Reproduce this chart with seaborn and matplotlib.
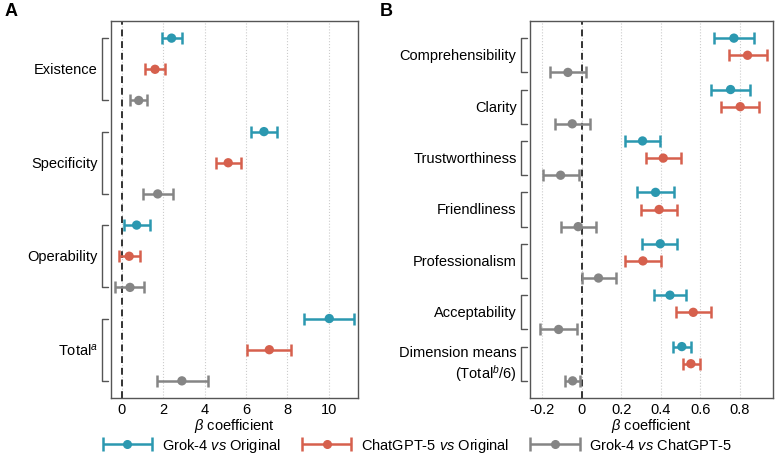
import numpy as np
import matplotlib
matplotlib.use('Agg')
import matplotlib.pyplot as plt
import matplotlib.transforms as mtransforms
from matplotlib.legend_handler import HandlerErrorbar
import seaborn as sns

# Panel A: objective dimensions
dims_a = ['Existence', 'Specificity', 'Operability', 'Total$^{a}$']
a_grok_orig = [2.40, 6.87, 0.71, 10.03]
a_grok_orig_lo = [1.95, 6.26, 0.10, 8.82]
a_grok_orig_hi = [2.92, 7.48, 1.37, 11.24]
a_gpt_orig = [1.60, 5.14, 0.35, 7.13]
a_gpt_orig_lo = [1.13, 4.55, -0.16, 6.05]
a_gpt_orig_hi = [2.08, 5.77, 0.87, 8.18]
a_grok_gpt = [0.81, 1.73, 0.39, 2.90]
a_grok_gpt_lo = [0.40, 1.00, -0.32, 1.68]
a_grok_gpt_hi = [1.21, 2.48, 1.06, 4.15]

# Panel B: subjective ratings
dims_b = ['Comprehensibility', 'Clarity', 'Trustworthiness', 'Friendliness',
          'Professionalism', 'Acceptability', 'Dimension means\n(Total$^{b}$/6)']
b_grok_orig = [0.770, 0.753, 0.307, 0.373, 0.397, 0.446, 0.506]
b_grok_orig_lo = [0.668, 0.653, 0.219, 0.280, 0.302, 0.366, 0.462]
b_grok_orig_hi = [0.871, 0.852, 0.395, 0.466, 0.484, 0.527, 0.552]
b_gpt_orig = [0.839, 0.802, 0.412, 0.391, 0.309, 0.564, 0.552]
b_gpt_orig_lo = [0.744, 0.705, 0.327, 0.297, 0.219, 0.479, 0.510]
b_gpt_orig_hi = [0.937, 0.898, 0.501, 0.484, 0.400, 0.652, 0.597]
b_grok_gpt = [-0.071, -0.049, -0.108, -0.019, 0.084, -0.118, -0.047]
b_grok_gpt_lo = [-0.160, -0.137, -0.196, -0.108, -0.002, -0.213, -0.086]
b_grok_gpt_hi = [0.020, 0.041, -0.017, 0.071, 0.174, -0.025, -0.009]

comparisons = ['Grok-4 $\\it{vs}$ Original', 'ChatGPT-5 $\\it{vs}$ Original',
               'Grok-4 $\\it{vs}$ ChatGPT-5']
colors = ['#2b98b0', '#d6604d', '#858585']

sns.set_style('white')
plt.rcParams['font.family'] = ['Liberation Sans', 'DejaVu Sans']
plt.rcParams['mathtext.fontset'] = 'custom'
plt.rcParams['mathtext.rm'] = 'Liberation Sans'
plt.rcParams['mathtext.it'] = 'Liberation Sans:italic'
plt.rcParams['font.size'] = 10.5
plt.rcParams['text.color'] = 'black'
plt.rcParams['axes.labelcolor'] = 'black'
plt.rcParams['xtick.color'] = 'black'


def draw_panel(ax, dims, series, xlim, xticks, xticklabels, row_pad):
    n = len(dims)
    for k, (vals, lo, hi) in enumerate(series):
        ys = np.arange(n) * 3 + k
        vals = np.array(vals)
        err = [vals - np.array(lo), np.array(hi) - vals]
        ax.errorbar(vals, ys, xerr=err, fmt='none', ecolor=colors[k],
                    elinewidth=1.8, capsize=4, capthick=1.8, zorder=3)
        sns.scatterplot(x=vals, y=ys, color=colors[k], s=45, edgecolor='none',
                        ax=ax, zorder=4, legend=False)
    ax.axvline(0, color='#333333', linestyle=(0, (3.5, 2.5)), linewidth=1.4, zorder=2)
    for t in xticks:
        ax.axvline(t, color='#cccccc', linestyle=':', linewidth=0.8, zorder=1)
    ax.set_xlim(*xlim)
    ax.set_ylim(3 * n - 1 + row_pad, -row_pad)
    ax.set_xticks(xticks)
    ax.set_xticklabels(xticklabels)
    ax.set_yticks([])
    ax.set_xlabel('$\\it{\\beta}$ coefficient', fontsize=10.5, labelpad=0)
    ax.tick_params(axis='x', length=2, width=0.8, color='#444444', pad=1, labelsize=10.5)
    for sp in ax.spines.values():
        sp.set_color('#555555')
        sp.set_linewidth(1.0)

    # group brackets and labels to the left of the axes
    trans = mtransforms.blended_transform_factory(ax.transAxes, ax.transData)
    fig = ax.figure
    bw = ax.get_position().width * fig.get_figwidth() * 100
    x_line = -9.5 / bw
    x_tick = -3.0 / bw
    for i, name in enumerate(dims):
        y0, y1 = 3 * i, 3 * i + 2
        ax.plot([x_tick, x_line, x_line, x_tick], [y0, y0, y1, y1], color='#555555',
                linewidth=1.0, transform=trans, clip_on=False)
        ax.text(x_line - 4 / bw, 3 * i + 1, name, transform=trans, ha='right',
                va='center', fontsize=10.5, multialignment='right')


fig = plt.figure(figsize=(7.77, 4.56), dpi=100)
ax_a = fig.add_axes([111 / 777, 1 - 399 / 456, 247 / 777, 377 / 456])
ax_b = fig.add_axes([530 / 777, 1 - 399 / 456, 243 / 777, 377 / 456])

draw_panel(ax_a, dims_a,
           [(a_grok_orig, a_grok_orig_lo, a_grok_orig_hi),
            (a_gpt_orig, a_gpt_orig_lo, a_gpt_orig_hi),
            (a_grok_gpt, a_grok_gpt_lo, a_grok_gpt_hi)],
           (-0.53, 11.42), [0, 2, 4, 6, 8, 10], ['0', '2', '4', '6', '8', '10'], 0.55)
draw_panel(ax_b, dims_b,
           [(b_grok_orig, b_grok_orig_lo, b_grok_orig_hi),
            (b_gpt_orig, b_gpt_orig_lo, b_gpt_orig_hi),
            (b_grok_gpt, b_grok_gpt_lo, b_grok_gpt_hi)],
           (-0.263, 0.968), [-0.2, 0, 0.2, 0.4, 0.6, 0.8],
           ['-0.2', '0', '0.2', '0.4', '0.6', '0.8'], 1.0)

fig.text(5 / 777, 1 - 11 / 456, 'A', fontsize=13, fontweight='bold', va='center', ha='left')
fig.text(380 / 777, 1 - 11 / 456, 'B', fontsize=13, fontweight='bold', va='center', ha='left')

# legend handles come from errorbars on an axes placed outside the figure
hidden = fig.add_axes([-1, -1, 0.01, 0.01])
hidden.set_axis_off()
handles = []
for c in colors:
    h = hidden.errorbar([0], [0], xerr=[[1], [1]], fmt='o', color=c, ecolor=c,
                        markersize=5.5, elinewidth=1.8, capsize=5, capthick=1.8)
    handles.append(h)
fig.legend(handles, comparisons, loc='center', bbox_to_anchor=(417 / 777, 1 - 446 / 456),
           ncol=3, frameon=False, fontsize=10.5, handlelength=3.5, columnspacing=1.4,
           handletextpad=0.6,
           handler_map={type(handles[0]): HandlerErrorbar(xerr_size=1.7, numpoints=1)})

fig.savefig('out.png', dpi=100)
